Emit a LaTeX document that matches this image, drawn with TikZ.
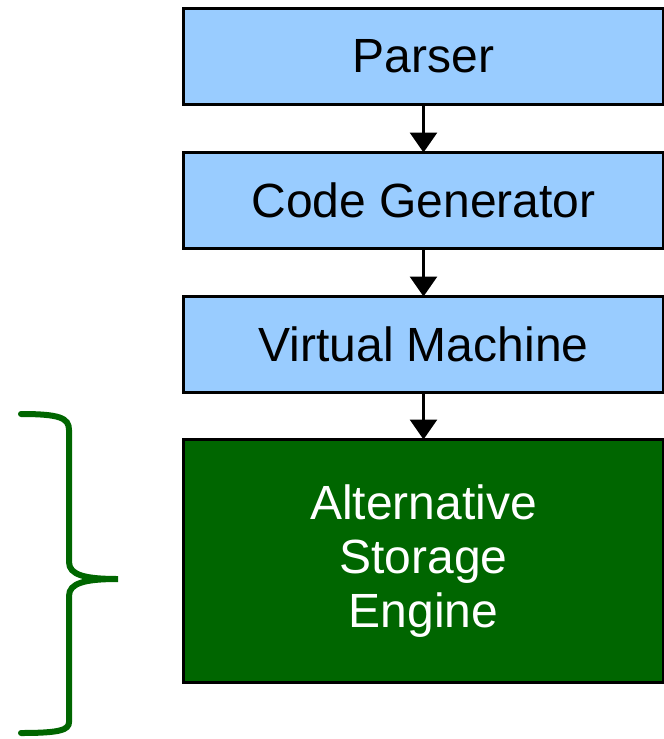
\documentclass[tikz,border=0pt]{standalone}
\usepackage{fontspec}
\setmainfont{Liberation Sans}
\usetikzlibrary{arrows.meta}
\definecolor{boxblue}{HTML}{99CCFF}
\definecolor{darkgreen}{HTML}{006600}
\begin{document}
\begin{tikzpicture}[x=1pt,y=-1pt,
  blk/.style={draw=black,line width=3pt,fill=boxblue,minimum width=480pt,minimum height=96pt,inner sep=0pt,outer sep=0pt,font=\fontsize{48}{54}\selectfont,anchor=north west},
  greenblk/.style={blk,fill=darkgreen,text=white,minimum height=243pt,align=center},
  conn/.style={line width=3pt,-{Triangle[length=20pt,width=27pt]}}]
\useasboundingbox (0,0) rectangle (664,739);
\node[blk] (parser) at (183.5,8.5) {Parser};
\node[blk] (codegen) at (183.5,152.5) {Code Generator};
\node[blk] (vm) at (183.5,296.5) {Virtual Machine};
\node[greenblk] (ase) at (183.5,439.5) {Alternative\\Storage\\Engine};
\draw[conn] (parser) -- (codegen);
\draw[conn] (codegen) -- (vm);
\draw[conn] (vm) -- (ase);
\coordinate (bt) at (21,414);
\coordinate (bb) at (21,733);
\coordinate (tip) at (118,579);
\draw[darkgreen,line width=6pt,line cap=round]
  (bt) .. controls (60,414) and (69,418) .. (69,430)
  -- (69,562) .. controls (69,575) and (85,579) .. (tip)
  .. controls (85,579) and (69,583) .. (69,596)
  -- (69,722) .. controls (69,730) and (60,733) .. (bb);
\end{tikzpicture}
\end{document}
